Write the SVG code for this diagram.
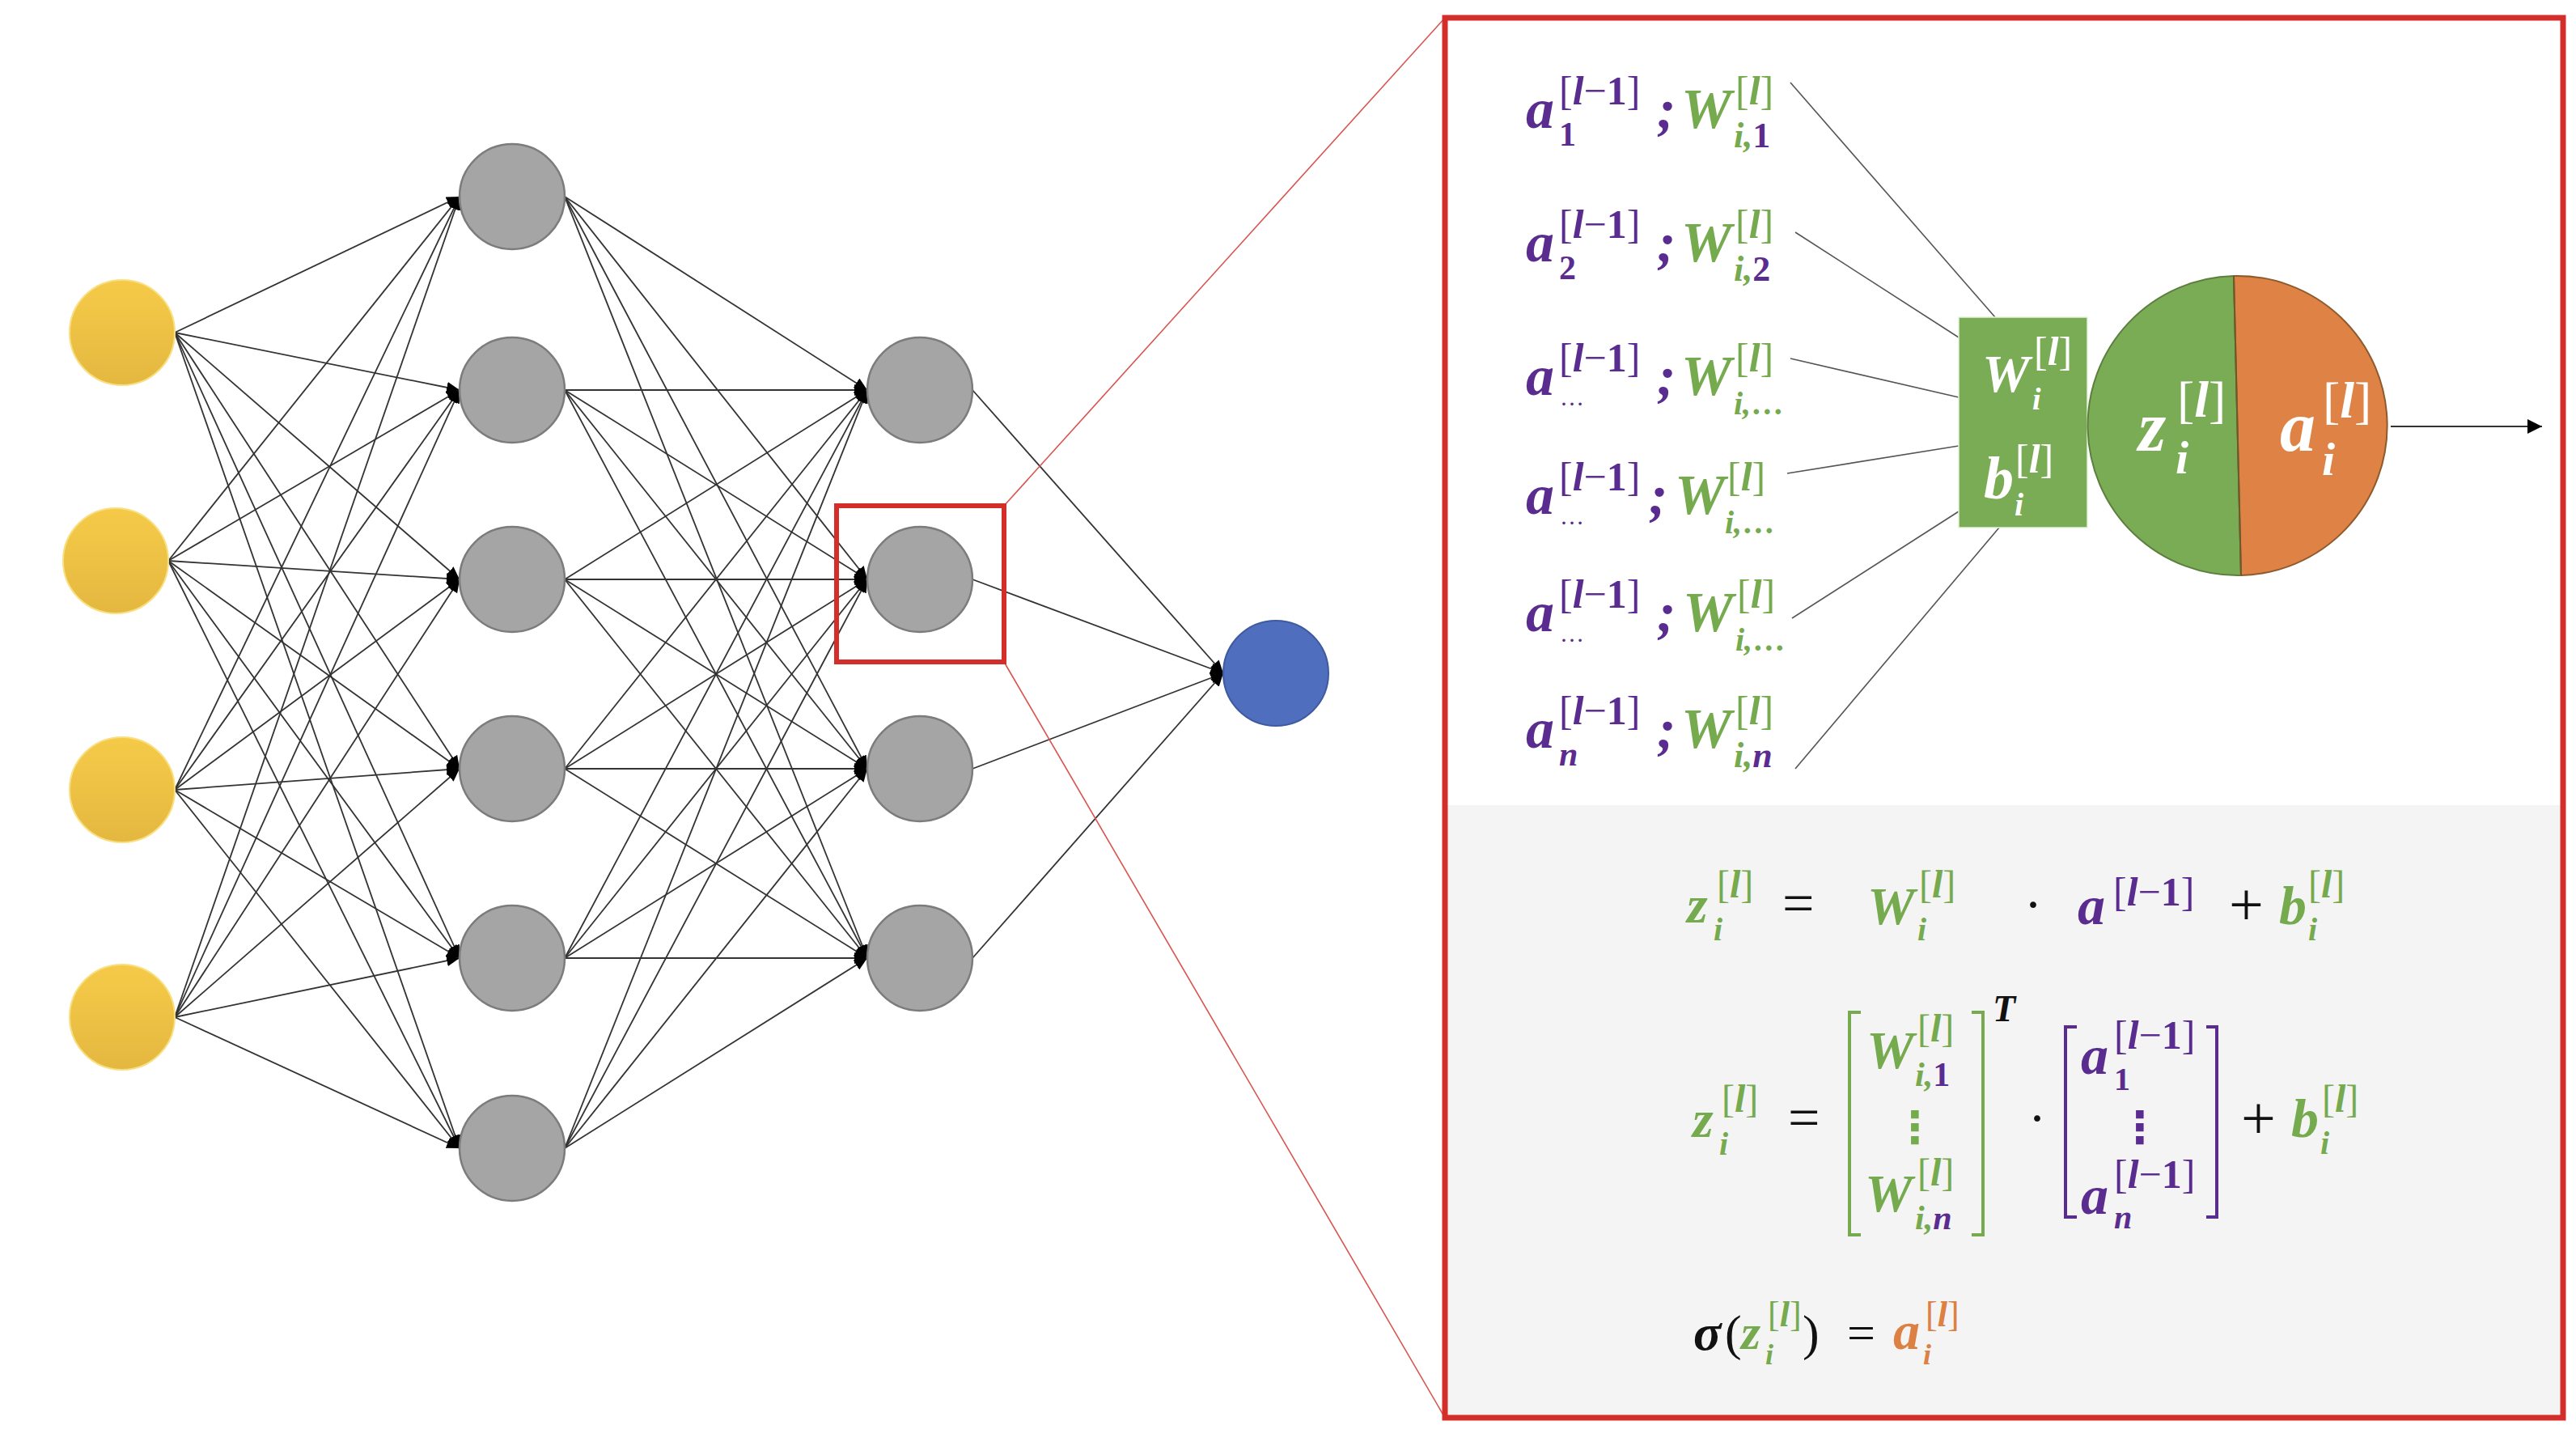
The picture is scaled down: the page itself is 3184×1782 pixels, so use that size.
<svg xmlns="http://www.w3.org/2000/svg" width="3184" height="1782" viewBox="0 0 3184 1782">
<style>
.c{stroke:#333;stroke-width:1.8;fill:none;marker-end:url(#ah)}
.lk{stroke:#555;stroke-width:1.6;fill:none}
.rl{stroke:#d9534f;stroke-width:1.6;fill:none}
.yn{fill:url(#yg);stroke:#f8df80;stroke-width:2}
.gn{fill:#a5a5a5;stroke:#7c7c7c;stroke-width:2.5}
.mi{font-family:"Liberation Serif","DejaVu Serif",serif;font-style:italic;font-weight:bold}
.up{font-family:"Liberation Serif","DejaVu Serif",serif;font-style:normal;font-weight:normal}
.b{font-weight:bold}
.n{font-style:normal}
.pu{fill:#5b2c8f}
.gr{fill:#76aa4e}
.or{fill:#dd8043}
.wh{fill:#ffffff}
.bk{fill:#111111}
.vd{font-family:"DejaVu Sans",sans-serif;font-weight:bold}
</style>
<defs>
<linearGradient id="yg" x1="0" y1="0" x2="0" y2="1">
<stop offset="0" stop-color="#f6ca48"/>
<stop offset="1" stop-color="#e4b840"/>
</linearGradient>
<marker id="ah" markerUnits="userSpaceOnUse" markerWidth="18" markerHeight="14" refX="16" refY="7" orient="auto">
<path d="M0,0 L16,7 L0,14 z" fill="#000"/>
</marker>
<marker id="ah2" markerUnits="userSpaceOnUse" markerWidth="20" markerHeight="18" refX="18" refY="9" orient="auto">
<path d="M0,0 L18,9 L0,18 z" fill="#000"/>
</marker>
</defs>
<rect x="0" y="0" width="3184" height="1782" fill="#ffffff"/>

<!-- zoom panel background -->
<rect id="formula-area" x="1789" y="995" width="1376" height="754" fill="#f4f4f4"/>

<g id="connectors">
<!-- input -> hidden 1 -->
<path class="c" d="M216 411L568 243"/><path class="c" d="M216 411L568 482"/><path class="c" d="M216 411L568 716"/><path class="c" d="M216 411L568 950"/><path class="c" d="M216 411L568 1184"/><path class="c" d="M216 411L568 1419"/>
<path class="c" d="M208 693L568 243"/><path class="c" d="M208 693L568 482"/><path class="c" d="M208 693L568 716"/><path class="c" d="M208 693L568 950"/><path class="c" d="M208 693L568 1184"/><path class="c" d="M208 693L568 1419"/>
<path class="c" d="M216 976L568 243"/><path class="c" d="M216 976L568 482"/><path class="c" d="M216 976L568 716"/><path class="c" d="M216 976L568 950"/><path class="c" d="M216 976L568 1184"/><path class="c" d="M216 976L568 1419"/>
<path class="c" d="M216 1257L568 243"/><path class="c" d="M216 1257L568 482"/><path class="c" d="M216 1257L568 716"/><path class="c" d="M216 1257L568 950"/><path class="c" d="M216 1257L568 1184"/><path class="c" d="M216 1257L568 1419"/>
<!-- hidden 1 -> hidden 2 -->
<path class="c" d="M698 243L1072 482"/><path class="c" d="M698 243L1072 716"/><path class="c" d="M698 243L1072 950"/><path class="c" d="M698 243L1072 1184"/>
<path class="c" d="M698 482L1072 482"/><path class="c" d="M698 482L1072 716"/><path class="c" d="M698 482L1072 950"/><path class="c" d="M698 482L1072 1184"/>
<path class="c" d="M698 716L1072 482"/><path class="c" d="M698 716L1072 716"/><path class="c" d="M698 716L1072 950"/><path class="c" d="M698 716L1072 1184"/>
<path class="c" d="M698 950L1072 482"/><path class="c" d="M698 950L1072 716"/><path class="c" d="M698 950L1072 950"/><path class="c" d="M698 950L1072 1184"/>
<path class="c" d="M698 1184L1072 482"/><path class="c" d="M698 1184L1072 716"/><path class="c" d="M698 1184L1072 950"/><path class="c" d="M698 1184L1072 1184"/>
<path class="c" d="M698 1419L1072 482"/><path class="c" d="M698 1419L1072 716"/><path class="c" d="M698 1419L1072 950"/><path class="c" d="M698 1419L1072 1184"/>
<!-- hidden 2 -> output -->
<path class="c" d="M1202 482L1512 832"/><path class="c" d="M1202 716L1512 832"/><path class="c" d="M1202 950L1512 832"/><path class="c" d="M1202 1184L1512 832"/>
<!-- zoom guide lines -->
<path class="rl" d="M1241 625L1786 22"/>
<path class="rl" d="M1241 818L1786 1752"/>
<!-- inputs to weight box -->
<path class="lk" d="M2213 102L2466 392"/>
<path class="lk" d="M2219 287L2421 417"/>
<path class="lk" d="M2213 443L2421 491"/>
<path class="lk" d="M2209 585L2421 551"/>
<path class="lk" d="M2215 764L2421 632"/>
<path class="lk" d="M2219 950L2471 652"/>
<!-- output arrow -->
<path d="M2955 527L3142 527" stroke="#333" stroke-width="2" fill="none" marker-end="url(#ah2)"/>
</g>

<g id="input-1"><circle class="yn" cx="151" cy="411" r="65"/></g>
<g id="input-2"><circle class="yn" cx="143" cy="693" r="65"/></g>
<g id="input-3"><circle class="yn" cx="151" cy="976" r="65"/></g>
<g id="input-4"><circle class="yn" cx="151" cy="1257" r="65"/></g>

<g id="h1-1"><circle class="gn" cx="633" cy="243" r="65"/></g>
<g id="h1-2"><circle class="gn" cx="633" cy="482" r="65"/></g>
<g id="h1-3"><circle class="gn" cx="633" cy="716" r="65"/></g>
<g id="h1-4"><circle class="gn" cx="633" cy="950" r="65"/></g>
<g id="h1-5"><circle class="gn" cx="633" cy="1184" r="65"/></g>
<g id="h1-6"><circle class="gn" cx="633" cy="1419" r="65"/></g>

<g id="h2-1"><circle class="gn" cx="1137" cy="482" r="65"/></g>
<g id="h2-2"><circle class="gn" cx="1137" cy="716" r="65"/></g>
<g id="h2-3"><circle class="gn" cx="1137" cy="950" r="65"/></g>
<g id="h2-4"><circle class="gn" cx="1137" cy="1184" r="65"/></g>

<g id="output"><circle cx="1577" cy="832" r="65" fill="#4f6fbe" stroke="#3f5a9e" stroke-width="2"/></g>

<g id="highlight"><rect x="1034" y="625" width="207" height="193" fill="none" stroke="#d42e2a" stroke-width="6"/></g>

<g id="zoom-panel"><rect x="1786" y="22" width="1382" height="1730" fill="none" stroke="#d42e2a" stroke-width="7"/></g>

<!-- input labels -->
<g id="in-1">
<text class="mi pu" x="1886" y="158" font-size="70">a</text>
<text class="up pu" x="1927" y="129" font-size="50">[<tspan class="mi">l</tspan>−<tspan class="b">1</tspan>]</text>
<text class="up b pu" x="1927" y="180" font-size="42">1</text>
<text class="mi pu" x="2048" y="158" font-size="70">;</text>
<text class="mi gr" x="2078" y="158" font-size="70">W</text>
<text class="up gr" x="2145" y="129" font-size="50">[<tspan class="mi">l</tspan>]</text>
<text class="mi gr" x="2143" y="182" font-size="44">i,<tspan class="n pu">1</tspan></text>
</g>
<g id="in-2">
<text class="mi pu" x="1886" y="323" font-size="70">a</text>
<text class="up pu" x="1927" y="294" font-size="50">[<tspan class="mi">l</tspan>−<tspan class="b">1</tspan>]</text>
<text class="up b pu" x="1927" y="345" font-size="42">2</text>
<text class="mi pu" x="2048" y="323" font-size="70">;</text>
<text class="mi gr" x="2078" y="323" font-size="70">W</text>
<text class="up gr" x="2145" y="294" font-size="50">[<tspan class="mi">l</tspan>]</text>
<text class="mi gr" x="2143" y="347" font-size="44">i,<tspan class="n pu">2</tspan></text>
</g>
<g id="in-3">
<text class="mi pu" x="1886" y="488" font-size="70">a</text>
<text class="up pu" x="1927" y="459" font-size="50">[<tspan class="mi">l</tspan>−<tspan class="b">1</tspan>]</text>
<text class="up pu" x="1928" y="501" font-size="30">…</text>
<text class="mi pu" x="2048" y="488" font-size="70">;</text>
<text class="mi gr" x="2078" y="488" font-size="70">W</text>
<text class="up gr" x="2145" y="459" font-size="50">[<tspan class="mi">l</tspan>]</text>
<text class="mi gr" x="2143" y="512" font-size="40">i,<tspan class="n">…</tspan></text>
</g>
<g id="in-4">
<text class="mi pu" x="1886" y="635" font-size="70">a</text>
<text class="up pu" x="1927" y="606" font-size="50">[<tspan class="mi">l</tspan>−<tspan class="b">1</tspan>]</text>
<text class="up pu" x="1928" y="648" font-size="30">…</text>
<text class="mi pu" x="2038" y="635" font-size="70">;</text>
<text class="mi gr" x="2070" y="635" font-size="70">W</text>
<text class="up gr" x="2135" y="606" font-size="50">[<tspan class="mi">l</tspan>]</text>
<text class="mi gr" x="2132" y="659" font-size="40">i,<tspan class="n">…</tspan></text>
</g>
<g id="in-5">
<text class="mi pu" x="1886" y="780" font-size="70">a</text>
<text class="up pu" x="1927" y="751" font-size="50">[<tspan class="mi">l</tspan>−<tspan class="b">1</tspan>]</text>
<text class="up pu" x="1928" y="793" font-size="30">…</text>
<text class="mi pu" x="2048" y="780" font-size="70">;</text>
<text class="mi gr" x="2080" y="780" font-size="70">W</text>
<text class="up gr" x="2147" y="751" font-size="50">[<tspan class="mi">l</tspan>]</text>
<text class="mi gr" x="2145" y="804" font-size="40">i,<tspan class="n">…</tspan></text>
</g>
<g id="in-6">
<text class="mi pu" x="1886" y="924" font-size="70">a</text>
<text class="up pu" x="1927" y="895" font-size="50">[<tspan class="mi">l</tspan>−<tspan class="b">1</tspan>]</text>
<text class="mi pu" x="1927" y="946" font-size="42">n</text>
<text class="mi pu" x="2048" y="924" font-size="70">;</text>
<text class="mi gr" x="2078" y="924" font-size="70">W</text>
<text class="up gr" x="2145" y="895" font-size="50">[<tspan class="mi">l</tspan>]</text>
<text class="mi gr" x="2143" y="948" font-size="44">i,<tspan class="pu">n</tspan></text>
</g>

<!-- weight / bias box -->
<g id="weight-box">
<rect x="2421" y="392" width="159" height="260" fill="#7aab55" stroke="#e6f2dc" stroke-width="1.5"/>
<text class="mi wh" x="2450" y="484" font-size="66">W</text>
<text class="up wh" x="2514" y="451" font-size="50">[<tspan class="mi">l</tspan>]</text>
<text class="mi wh" x="2512" y="506" font-size="38">i</text>
<text class="mi wh" x="2452" y="616" font-size="74">b</text>
<text class="up wh" x="2491" y="584" font-size="50">[<tspan class="mi">l</tspan>]</text>
<text class="mi wh" x="2490" y="637" font-size="40">i</text>
</g>

<!-- neuron z / a -->
<g id="neuron">
<path d="M2761 341A185 185 0 0 0 2770 711Z" fill="#7aab55" stroke="#5d7f3e" stroke-width="2"/>
<path d="M2761 341A185 185 0 1 1 2770 711Z" fill="#df8245" stroke="#8e5b2e" stroke-width="2"/>
<path d="M2761 341L2770 711" stroke="#6b5a2a" stroke-width="2"/>
<text class="mi wh" x="2643" y="557" font-size="88">z</text>
<text class="up wh" x="2691" y="515" font-size="64">[<tspan class="mi">l</tspan>]</text>
<text class="mi wh" x="2689" y="585" font-size="58">i</text>
<text class="mi wh" x="2818" y="557" font-size="88">a</text>
<text class="up wh" x="2871" y="516" font-size="64">[<tspan class="mi">l</tspan>]</text>
<text class="mi wh" x="2870" y="587" font-size="58">i</text>
</g>

<!-- formula 1 -->
<g id="formula-1">
<text class="mi gr" x="2085" y="1140" font-size="66">z</text>
<text class="up gr" x="2122" y="1109" font-size="48">[<tspan class="mi">l</tspan>]</text>
<text class="mi gr" x="2118" y="1162" font-size="40">i</text>
<text class="up bk" x="2203" y="1140" font-size="70">=</text>
<text class="mi gr" x="2308" y="1142" font-size="66">W</text>
<text class="up gr" x="2372" y="1109" font-size="48">[<tspan class="mi">l</tspan>]</text>
<text class="mi gr" x="2370" y="1162" font-size="40">i</text>
<text class="up bk" x="2513" y="1140" font-size="66" text-anchor="middle">·</text>
<text class="mi pu" x="2568" y="1142" font-size="68">a</text>
<text class="up pu" x="2612" y="1119" font-size="50">[<tspan class="mi">l</tspan>−<tspan class="b">1</tspan>]</text>
<text class="up bk" x="2755" y="1143" font-size="76">+</text>
<text class="mi gr" x="2817" y="1142" font-size="68">b</text>
<text class="up gr" x="2853" y="1109" font-size="48">[<tspan class="mi">l</tspan>]</text>
<text class="mi gr" x="2853" y="1162" font-size="40">i</text>
</g>

<!-- formula 2 -->
<g id="formula-2">
<text class="mi gr" x="2092" y="1405" font-size="66">z</text>
<text class="up gr" x="2128" y="1374" font-size="48">[<tspan class="mi">l</tspan>]</text>
<text class="mi gr" x="2125" y="1427" font-size="40">i</text>
<text class="up bk" x="2210" y="1405" font-size="70">=</text>
<path d="M2300 1251H2286V1526H2300" fill="none" stroke="#76aa4e" stroke-width="4"/>
<path d="M2437 1251H2451V1526H2437" fill="none" stroke="#76aa4e" stroke-width="4"/>
<text class="mi bk" x="2463" y="1262" font-size="46">T</text>
<text class="mi gr" x="2307" y="1320" font-size="66">W</text>
<text class="up gr" x="2370" y="1287" font-size="48">[<tspan class="mi">l</tspan>]</text>
<text class="mi gr" x="2367" y="1342" font-size="42">i,<tspan class="n pu">1</tspan></text>
<text class="vd gr" x="2367" y="1412" font-size="54" text-anchor="middle">⋮</text>
<text class="mi gr" x="2305" y="1497" font-size="66">W</text>
<text class="up gr" x="2370" y="1465" font-size="48">[<tspan class="mi">l</tspan>]</text>
<text class="mi gr" x="2367" y="1519" font-size="42">i,<tspan class="pu">n</tspan></text>
<text class="up bk" x="2518" y="1404" font-size="66" text-anchor="middle">·</text>
<path d="M2567 1269H2553V1504H2567" fill="none" stroke="#5b2c8f" stroke-width="4"/>
<path d="M2727 1269H2740V1504H2727" fill="none" stroke="#5b2c8f" stroke-width="4"/>
<text class="mi pu" x="2572" y="1327" font-size="68">a</text>
<text class="up pu" x="2613" y="1296" font-size="50">[<tspan class="mi">l</tspan>−<tspan class="b">1</tspan>]</text>
<text class="up b pu" x="2613" y="1347" font-size="40">1</text>
<text class="vd pu" x="2645" y="1412" font-size="54" text-anchor="middle">⋮</text>
<text class="mi pu" x="2572" y="1500" font-size="68">a</text>
<text class="up pu" x="2613" y="1468" font-size="50">[<tspan class="mi">l</tspan>−<tspan class="b">1</tspan>]</text>
<text class="mi pu" x="2613" y="1518" font-size="40">n</text>
<text class="up bk" x="2770" y="1407" font-size="76">+</text>
<text class="mi gr" x="2832" y="1405" font-size="68">b</text>
<text class="up gr" x="2870" y="1374" font-size="48">[<tspan class="mi">l</tspan>]</text>
<text class="mi gr" x="2868" y="1426" font-size="40">i</text>
</g>

<!-- formula 3 -->
<g id="formula-3">
<text class="mi bk" x="2093" y="1668" font-size="64">σ</text>
<text class="up bk" x="2132" y="1668" font-size="62">(</text>
<text class="mi gr" x="2152" y="1667" font-size="62">z</text>
<text class="up gr" x="2185" y="1639" font-size="44">[<tspan class="mi">l</tspan>]</text>
<text class="mi gr" x="2182" y="1686" font-size="36">i</text>
<text class="up bk" x="2228" y="1668" font-size="62">)</text>
<text class="up bk" x="2283" y="1668" font-size="62">=</text>
<text class="mi or" x="2340" y="1667" font-size="66">a</text>
<text class="up or" x="2380" y="1639" font-size="44">[<tspan class="mi">l</tspan>]</text>
<text class="mi or" x="2377" y="1686" font-size="36">i</text>
</g>
</svg>
